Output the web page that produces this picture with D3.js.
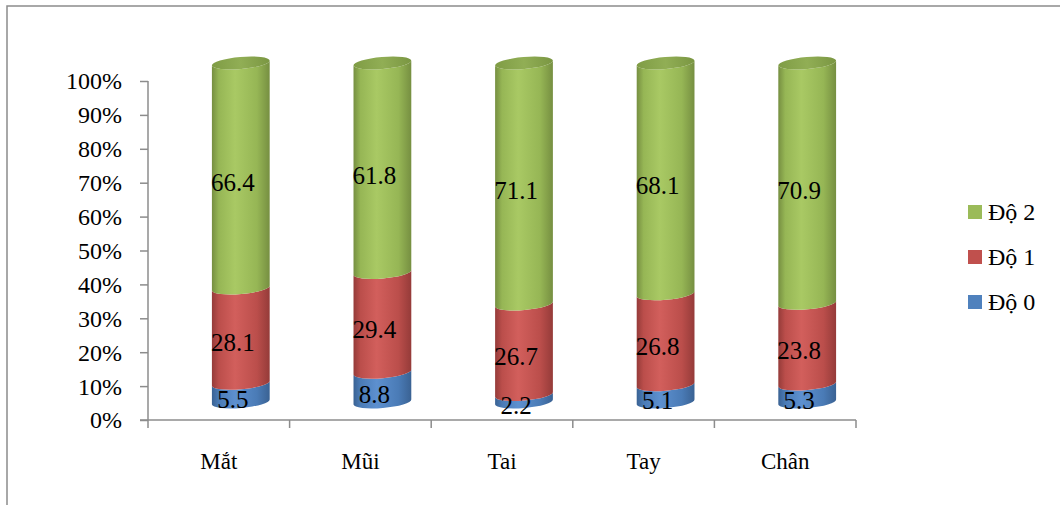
<!DOCTYPE html>
<html>
<head>
<meta charset="utf-8">
<script src="https://cdn.jsdelivr.net/npm/d3@7"></script>
<style>
  html, body { margin: 0; padding: 0; background: #fff; }
  svg { display: block; }
  text { font-family: "Liberation Serif", "Times New Roman", serif; fill: #000; }
</style>
</head>
<body>
<svg id="chart" width="1060" height="505"></svg>
<script>
// Categories and stacked percentages (bottom to top)
const categories = ["Mắt", "Mũi", "Tai", "Tay", "Chân"];
const seriesNames = ["Độ 0", "Độ 1", "Độ 2"];
const do0 = [5.5, 8.8, 2.2, 5.1, 5.3];
const do1 = [28.1, 29.4, 26.7, 26.8, 23.8];
const do2 = [66.4, 61.8, 71.1, 68.1, 70.9];
const tickValues = [0, 0.1, 0.2, 0.3, 0.4, 0.5, 0.6, 0.7, 0.8, 0.9, 1.0];

const seriesValues = [do0, do1, do2];
const colors = ["#4F81BD", "#C0504D", "#9BBB59"];
const shades = [
  { dark: "#3a6293", mid: "#4a7bb6", light: "#5d90cf" },
  { dark: "#953b39", mid: "#bb4e4b", light: "#d25f5c" },
  { dark: "#768f41", mid: "#96b655", light: "#a9c964" }
];

const serif = "'Liberation Serif', 'Times New Roman', serif";
const svg = d3.select("#chart");

// Outer frame
svg.append("rect")
  .attr("x", 7).attr("y", 6)
  .attr("width", 1100).attr("height", 600)
  .attr("fill", "none").attr("stroke", "#8c8c8c").attr("stroke-width", 1.5);

const x = d3.scaleBand().domain(categories).range([148, 856]).padding(0);
const y = d3.scaleLinear().domain([0, 1]).range([420, 81]);

// Gradients for the cylinder shading
const defs = svg.append("defs");
shades.forEach((s, i) => {
  const g = defs.append("linearGradient").attr("id", "grad" + i)
    .attr("x1", "0%").attr("x2", "100%").attr("y1", "0%").attr("y2", "0%");
  g.append("stop").attr("offset", "0%").attr("stop-color", s.dark);
  g.append("stop").attr("offset", "12%").attr("stop-color", s.mid);
  g.append("stop").attr("offset", "40%").attr("stop-color", s.light);
  g.append("stop").attr("offset", "78%").attr("stop-color", s.mid);
  g.append("stop").attr("offset", "100%").attr("stop-color", s.dark);
});
const topGrad = defs.append("linearGradient").attr("id", "gradTop")
  .attr("x1", "0%").attr("x2", "100%").attr("y1", "0%").attr("y2", "0%");
topGrad.append("stop").attr("offset", "0%").attr("stop-color", "#7f9c45");
topGrad.append("stop").attr("offset", "50%").attr("stop-color", "#91ae55");
topGrad.append("stop").attr("offset", "100%").attr("stop-color", "#7a9642");

// Axes
const axisColor = "#8c8c8c";
const yAxis = svg.append("g").attr("transform", "translate(148,0)")
  .call(d3.axisLeft(y).tickValues(tickValues).tickSize(8).tickFormat(d3.format(".0%")));
yAxis.attr("font-family", serif);
yAxis.select(".domain").attr("stroke", axisColor).attr("stroke-width", 1.5).attr("d", "M0,81V420");
yAxis.selectAll(".tick line").attr("stroke", axisColor).attr("stroke-width", 1.5);
yAxis.selectAll(".tick text")
  .attr("x", -26).attr("dy", "0.33em")
  .style("font-size", "24px")
  .style("font-family", serif)
  .attr("fill", "#000");

const xAxis = svg.append("g").attr("transform", "translate(0,420)")
  .call(d3.axisBottom(x).tickSize(0).tickPadding(0));
xAxis.attr("font-family", serif);
xAxis.select(".domain").attr("stroke", axisColor).attr("stroke-width", 1.5)
  .attr("d", "M140,0H856");
xAxis.selectAll(".tick text")
  .attr("y", 33)
  .style("font-size", "23px")
  .style("font-family", serif)
  .attr("fill", "#000");
// Category separators
const bounds = categories.map(c => x(c)).concat([x.range()[1]]);
xAxis.selectAll("line.sep").data(bounds).join("line")
  .attr("class", "sep")
  .attr("x1", d => d).attr("x2", d => d)
  .attr("y1", 0).attr("y2", 8)
  .attr("stroke", axisColor).attr("stroke-width", 1.5);

// Cylinder geometry (oblique 3D view)
const depthDx = 22, depthDy = 18;
const rx = 29, ry = 6, rot = -5;
const dRot = rx * Math.sin(Math.abs(rot) * Math.PI / 180);
const hx = rx * Math.cos(rot * Math.PI / 180);
const yc = v => y(v) - depthDy;

function segmentPath(cx, v0, v1) {
  const xl = cx - hx, xr = cx + hx;
  const t = yc(v1), b = yc(v0);
  return `M${xl},${t + dRot}L${xl},${b + dRot}` +
    `A${rx},${ry},${rot},0,0,${xr},${b - dRot}` +
    `L${xr},${t - dRot}` +
    `A${rx},${ry},${rot},0,1,${xl},${t + dRot}Z`;
}

const stacked = categories.map((c, i) => {
  let acc = 0;
  return seriesValues.map((vals, s) => {
    const v0 = acc / 100;
    acc += vals[i];
    return { cat: c, s, value: vals[i], v0, v1: acc / 100 };
  });
});

const bars = svg.append("g");
stacked.forEach(segs => {
  const cx = x(segs[0].cat) + x.bandwidth() / 2 + depthDx;
  const g = bars.append("g");
  g.selectAll("path.seg").data(segs).join("path")
    .attr("class", "seg")
    .attr("d", d => segmentPath(cx, d.v0, d.v1))
    .attr("fill", d => `url(#grad${d.s})`);
  // top face
  const last = segs[segs.length - 1];
  g.append("ellipse")
    .attr("cx", cx).attr("cy", yc(last.v1))
    .attr("rx", rx).attr("ry", ry)
    .attr("transform", `rotate(${rot},${cx},${yc(last.v1)})`)
    .attr("fill", "url(#gradTop)");
});

// Value labels
const labels = svg.append("g");
stacked.forEach(segs => {
  const cx = x(segs[0].cat) + x.bandwidth() / 2 + depthDx - 8;
  labels.selectAll(null).data(segs).enter().append("text")
    .attr("x", cx)
    .attr("y", d => y((d.v0 + d.v1) / 2) - 11)
    .attr("dy", "0.35em")
    .attr("text-anchor", "middle")
    .style("font-size", "25px")
    .style("font-family", serif)
    .text(d => d.value.toFixed(1));
});

// Legend (top to bottom: Độ 2, Độ 1, Độ 0)
const legendOrder = [2, 1, 0];
const legendRowY = d3.scalePoint().domain(legendOrder).range([212, 302]);
const legend = svg.append("g");
legendOrder.forEach(s => {
  legend.append("rect")
    .attr("x", 968).attr("y", legendRowY(s) - 7)
    .attr("width", 14).attr("height", 14)
    .attr("fill", colors[s]);
  legend.append("text")
    .attr("x", 988).attr("y", legendRowY(s))
    .attr("dy", "0.35em")
    .style("font-size", "24px")
    .style("font-family", serif)
    .text(seriesNames[s]);
});
</script>
</body>
</html>
